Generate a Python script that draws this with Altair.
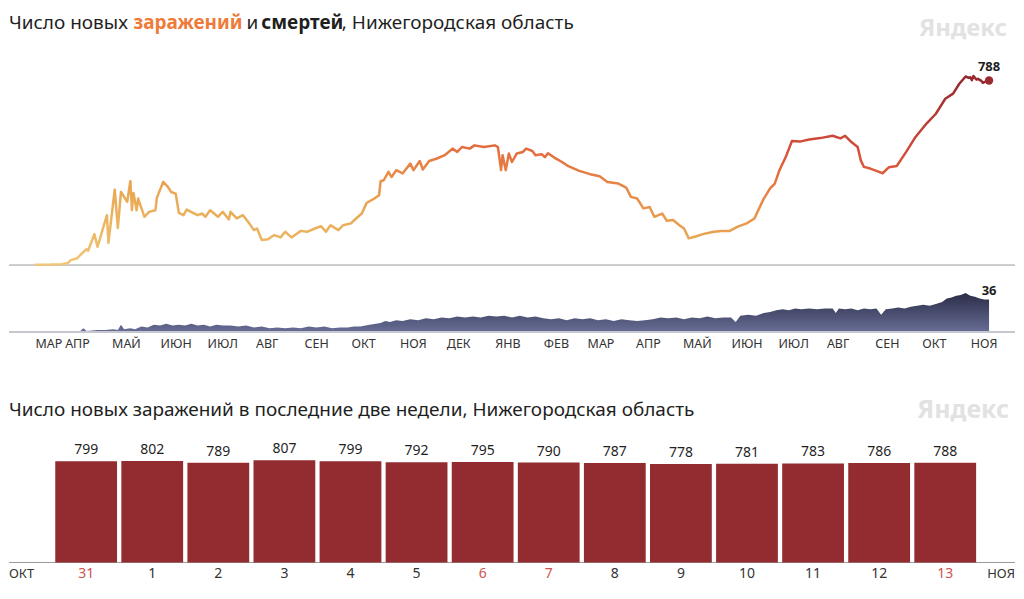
import altair as alt
import pandas as pd

# ---------------- data ----------------
START = "2020-03-13"

# daily new infections (day offset from START, value)
inf_day = [0, 10, 17, 21, 23, 27, 29, 33, 34, 38, 40, 46, 47, 51, 53, 55, 57, 59, 61, 62,
           63, 65, 66, 67, 70, 73, 77, 78, 82, 85, 87, 90, 92, 95, 97, 101, 104, 107, 109, 112,
           117, 120, 124, 125, 129, 133, 137, 140, 142, 145, 149, 153, 157, 160, 164, 170, 174, 179, 183, 186,
           189, 194, 197, 202, 206, 209, 212, 217, 220, 221, 223, 226, 228, 231, 235, 240, 242, 246, 248, 252,
           257, 262, 267, 270, 273, 278, 281, 287, 294, 296, 298, 299, 301, 303, 305, 308, 312, 314, 318, 320,
           324, 326, 328, 332, 337, 341, 348, 355, 361, 366, 373, 378, 381, 385, 389, 393, 396, 401, 404, 408,
           412, 415, 418, 422, 427, 434, 439, 444, 449, 455, 460, 463, 466, 470, 473, 476, 480, 484, 489, 495,
           502, 510, 515, 518, 522, 526, 528, 530, 534, 538, 542, 546, 551, 557, 563, 570, 576, 582, 587, 591,
           595, 597, 598, 599, 600, 601, 602, 603, 604, 605, 606, 607, 608, 609, 610]
inf_val = [1, 2, 4, 9, 21, 29, 43, 68, 61, 132, 78, 213, 95, 322, 158, 312, 291, 270, 358, 234,
           308, 234, 284, 263, 206, 227, 234, 288, 355, 334, 312, 305, 223, 213, 237, 223, 213, 220, 206, 234,
           206, 227, 195, 227, 199, 213, 178, 149, 156, 107, 110, 128, 118, 142, 118, 146, 142, 156, 166, 142,
           170, 149, 170, 178, 203, 220, 265, 284, 298, 358, 362, 398, 376, 405, 391, 433, 405, 444, 408, 444,
           455, 469, 497, 483, 504, 497, 511, 504, 511, 504, 405, 469, 405, 476, 440, 476, 483, 497, 487, 469,
           473, 461, 477, 459, 440, 422, 402, 388, 379, 355, 348, 331, 291, 284, 242, 248, 206, 220, 189, 192,
           170, 156, 114, 121, 132, 142, 145, 145, 163, 178, 199, 242, 284, 327, 348, 405, 461, 530, 527, 536,
           542, 552, 541, 552, 525, 504, 447, 419, 412, 402, 392, 418, 423, 483, 547, 604, 646, 710, 732, 774,
           805, 799, 802, 789, 807, 799, 792, 795, 790, 787, 778, 781, 783, 786, 788]

# daily deaths (day offset from START, value)
death_day = [0, 10, 20, 29, 31, 33, 40, 45, 50, 53, 55, 57, 61, 64, 68, 72, 76, 80, 84, 88,
             92, 96, 100, 104, 108, 112, 116, 120, 125, 130, 135, 140, 145, 150, 155, 160, 165, 170, 175, 180,
             185, 190, 195, 200, 204, 208, 214, 221, 224, 227, 231, 235, 240, 245, 250, 255, 260, 265, 270, 275,
             280, 285, 290, 295, 300, 305, 310, 315, 320, 325, 330, 335, 340, 345, 350, 355, 360, 365, 370, 375,
             380, 385, 390, 395, 400, 405, 410, 415, 420, 425, 430, 435, 440, 445, 448, 451, 456, 461, 466, 470,
             474, 478, 482, 486, 490, 495, 500, 505, 510, 512, 514, 518, 522, 526, 530, 534, 538, 541, 544, 548,
             552, 556, 560, 564, 568, 572, 576, 580, 583, 586, 589, 592, 595, 598, 601, 604, 607, 610]
death_val = [1, 1, 1, 1, 4, 1, 2, 2, 3, 2, 8, 3, 4, 3, 6, 5, 8, 7, 9, 7,
             8, 7, 9, 7, 8, 6, 8, 7, 7, 6, 7, 5, 6, 4, 5, 4, 5, 4, 6, 5,
             6, 4, 5, 5, 6, 6, 8, 10, 12, 11, 13, 12, 14, 13, 15, 14, 16, 15, 17, 16,
             17, 16, 18, 17, 18, 16, 18, 16, 17, 15, 14, 15, 13, 15, 14, 15, 13, 14, 12, 14,
             13, 12, 13, 14, 16, 15, 16, 14, 16, 15, 17, 15, 16, 16, 11, 18, 19, 18, 21, 22,
             24, 25, 24, 26, 25, 26, 25, 26, 26, 21, 26, 25, 26, 24, 26, 25, 26, 19, 25, 26,
             27, 26, 28, 29, 30, 29, 31, 33, 37, 38, 40, 41, 43, 40, 39, 37, 36, 36]

month_names = ["ЯНВ", "ФЕВ", "МАР", "АПР", "МАЙ", "ИЮН", "ИЮЛ", "АВГ", "СЕН", "ОКТ", "НОЯ", "ДЕК"]
month_ticks = [(2020, 3, 13), (2020, 4, 1), (2020, 5, 1), (2020, 6, 1), (2020, 7, 1), (2020, 8, 1),
               (2020, 9, 1), (2020, 10, 1), (2020, 11, 1), (2020, 12, 1), (2021, 1, 1), (2021, 2, 1),
               (2021, 3, 1), (2021, 4, 1), (2021, 5, 1), (2021, 6, 1), (2021, 7, 1), (2021, 8, 1),
               (2021, 9, 1), (2021, 10, 1), (2021, 11, 1)]

bar_labels = ["31", "1", "2", "3", "4", "5", "6", "7", "8", "9", "10", "11", "12", "13"]
bar_values = [799, 802, 789, 807, 799, 792, 795, 790, 787, 778, 781, 783, 786, 788]
bar_weekend = [1, 0, 0, 0, 0, 0, 1, 1, 0, 0, 0, 0, 0, 1]

# ---------------- frames ----------------
start = pd.Timestamp(START)
inf = pd.DataFrame({"date": start + pd.to_timedelta(inf_day, unit="D"), "value": inf_val})
dea = pd.DataFrame({"date": start + pd.to_timedelta(death_day, unit="D"), "value": death_val})
bars = pd.DataFrame({"pos": list(range(len(bar_values))), "label": bar_labels,
                     "value": bar_values, "wk": bar_weekend})

W = 1008
FONT = "Noto Sans"
INK = "#1f1f1f"

xscale = alt.Scale(domain=[alt.DateTime(year=2020, month=3, date=13),
                           alt.DateTime(year=2021, month=11, date=13)],
                   range=[26, 982])


def txt(s, x, y, size=19, color=INK, weight="normal", align="left"):
    return alt.Chart(pd.DataFrame({"t": [s]})).mark_text(
        align=align, baseline="middle", fontSize=size, color=color, fontWeight=weight, font=FONT
    ).encode(text="t:N", x=alt.value(x), y=alt.value(y))


# ---------------- panel A: infections ----------------
HA = 257
line_grad = alt.Gradient(
    gradient="linear",
    stops=[alt.GradientStop(offset=0, color="#f1c677"),
           alt.GradientStop(offset=0.31, color="#e9a853"),
           alt.GradientStop(offset=0.45, color="#e88f49"),
           alt.GradientStop(offset=0.58, color="#e4713f"),
           alt.GradientStop(offset=0.65, color="#da593b"),
           alt.GradientStop(offset=0.73, color="#d14a3a"),
           alt.GradientStop(offset=1.0, color="#972a2f")],
    x1=0, y1=1, x2=0.53, y2=-0.17)

yA = alt.Scale(domain=[0, 1095])
base_inf = alt.Chart(inf).encode(
    x=alt.X("date:T", scale=xscale, axis=None),
    y=alt.Y("value:Q", scale=yA, axis=None))
line = base_inf.mark_line(stroke=line_grad, strokeWidth=2.5, strokeJoin="round")
last_inf = alt.Chart(inf.tail(1)).encode(
    x=alt.X("date:T", scale=xscale, axis=None),
    y=alt.Y("value:Q", scale=yA, axis=None))
dot = last_inf.mark_circle(size=70, color="#9b2a2f", opacity=1)
dot_lbl = last_inf.mark_text(dy=-13, fontSize=13, fontWeight="bold", color=INK, font=FONT).encode(
    text="value:Q")
ruleA = alt.Chart(pd.DataFrame({"a": [0]})).mark_rule(color="#9a9a9a", strokeWidth=1).encode(
    x=alt.value(0), x2=alt.value(W), y=alt.value(HA))

titleA = alt.layer(
    txt("Число новых", 0, 14),
    txt("заражений", 124.7, 14, color="#ee7b39", weight="bold"),
    txt("и", 238, 14),
    txt("смертей", 252.8, 14, weight="bold"),
    txt(", Нижегородская область", 333.5, 14),
    txt("Яндекс", W - 8, 20, size=24, color="#e2e2e2", weight="bold", align="right"),
)
panelA = alt.layer(ruleA, line, dot, dot_lbl, titleA).properties(width=W, height=HA)

# ---------------- panel B: deaths ----------------
HB = 67
area_grad = alt.Gradient(
    gradient="linear",
    stops=[alt.GradientStop(offset=0, color="#676d95"),
           alt.GradientStop(offset=1, color="#2a2d47")],
    x1=0, y1=1, x2=0, y2=0)
yB = alt.Scale(domain=[0, 74])
label_expr = "[" + ",".join("'%s'" % m for m in month_names) + "][month(datum.value)]"
month_axis = alt.Axis(values=[alt.DateTime(year=a, month=b, date=c) for a, b, c in month_ticks],
                      labelExpr=label_expr, labelAlign="left", labelFontSize=12.5, labelColor="#333333",
                      labelFont=FONT, labelPadding=6, ticks=False, domain=False, grid=False,
                      labelOverlap=False, labelFlush=False, title=None)
xB = alt.X("date:T", scale=xscale, axis=month_axis)
area = alt.Chart(dea).mark_area(fill=area_grad).encode(
    x=xB, y=alt.Y("value:Q", scale=yB, axis=None))
last_dea = alt.Chart(dea.tail(1)).mark_text(dy=-8, fontSize=13, fontWeight="bold", color=INK,
                                             font=FONT).encode(
    x=xB, y=alt.Y("value:Q", scale=yB, axis=None), text="value:Q")
ruleB = alt.Chart(pd.DataFrame({"a": [0]})).mark_rule(color="#c6c6ce", strokeWidth=2).encode(
    x=alt.value(0), x2=alt.value(W), y=alt.value(HB))
panelB = alt.layer(area, ruleB, last_dea).properties(width=W, height=HB)

# ---------------- panel C: last two weeks ----------------
HC = 231
xC = alt.X("pos:O", scale=alt.Scale(range=[44.2, 971.2], paddingInner=0.065, paddingOuter=0.0325),
           axis=None)
yC = alt.Y("value:Q", scale=alt.Scale(domain=[0, 1822]), axis=None)
bar = alt.Chart(bars).mark_bar(color="#922c31").encode(x=xC, y=yC)
bar_lbl = alt.Chart(bars).mark_text(baseline="alphabetic", dy=-7, fontSize=14, color=INK,
                                    font=FONT).encode(x=xC, y=yC, text="value:Q")
day_lbl = alt.Chart(bars).mark_text(baseline="middle", fontSize=14, font=FONT).encode(
    x=xC, y=alt.value(HC + 12), text="label:N",
    color=alt.Color("wk:N", scale=alt.Scale(domain=[0, 1], range=["#333333", "#d05252"]), legend=None))
ruleC = alt.Chart(pd.DataFrame({"a": [0]})).mark_rule(color="#9a9a9a", strokeWidth=1).encode(
    x=alt.value(0), x2=alt.value(W), y=alt.value(HC))
textsC = alt.layer(
    txt("Число новых заражений в последние две недели, Нижегородская область", 0, 78),
    txt("Яндекс", W - 6, 78, size=25, color="#e2e2e2", weight="bold", align="right"),
    txt("ОКТ", 0, HC + 12, size=13, color="#333333"),
    txt("НОЯ", W, HC + 12, size=13, color="#333333", align="right"),
)
panelC = alt.layer(ruleC, bar, bar_lbl, day_lbl, textsC).properties(width=W, height=HC)

chart = alt.vconcat(panelA, panelB, panelC, spacing=0, bounds="flush").properties(
    padding=0
).configure(font=FONT).configure_view(stroke=None)

chart.save("out.html", embed_options={"renderer": "svg", "actions": False})
